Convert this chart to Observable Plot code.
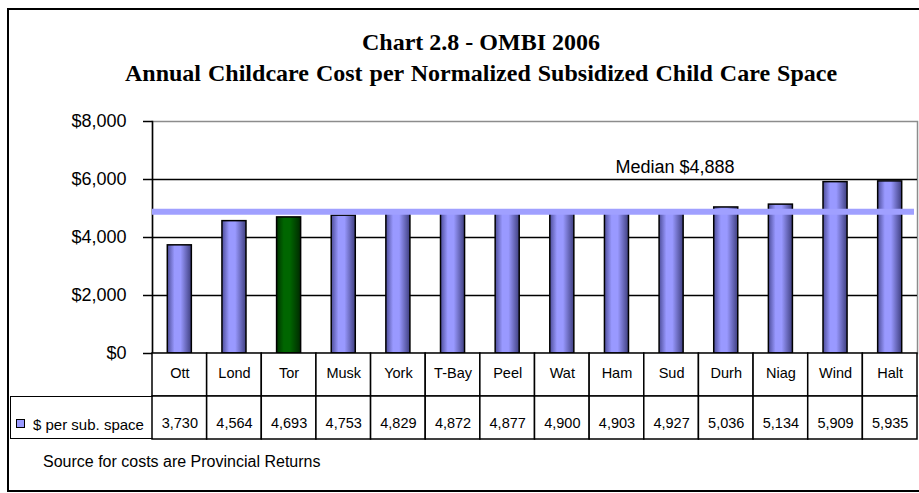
<!DOCTYPE html>
<html><head><meta charset="utf-8">
<script src="https://cdn.jsdelivr.net/npm/d3@7"></script>
<script src="https://cdn.jsdelivr.net/npm/@observablehq/plot@0.6"></script>
<style>
html,body{margin:0;background:#fff;overflow:hidden}
#root{position:relative;width:919px;height:493px;overflow:hidden;background:#fff;font-family:"Liberation Sans",Arial,sans-serif;color:#000}
.edge{position:absolute;background:#000}
#edgeTop{left:7px;top:8px;width:912px;height:2px}
#edgeLeft{left:7px;top:8px;width:2px;height:484px}
#edgeBottom{left:7px;top:490px;width:912px;height:2px}
.title{position:absolute;left:0;width:962px;text-align:center;font-family:"Liberation Serif","Times New Roman",serif;font-weight:bold;font-size:24px;line-height:24px;white-space:nowrap}
#title1{top:30px}
#title2{top:61px;word-spacing:1px}
#chart,#table{position:absolute;left:0}
#chart{top:0}
#table{top:353px}
#legendCell{position:absolute;left:10px;top:396px;width:143px;height:43px;box-sizing:border-box;border:1.5px solid #000;border-right:none;font-size:15px;line-height:15px;white-space:nowrap}
#legendCell .sw{position:absolute;left:5px;top:22px;width:9px;height:9px;box-sizing:border-box;background:#9999ff;border:1.5px solid #000}
#legendCell .lt{position:absolute;left:22px;top:20px}
#source{position:absolute;left:43px;top:454px;font-size:16px;line-height:16px;white-space:nowrap}
svg{overflow:visible}
</style></head><body>
<div id="root">
  <div class="edge" id="edgeTop"></div>
  <div class="edge" id="edgeLeft"></div>
  <div class="edge" id="edgeBottom"></div>
  <div class="title" id="title1"></div>
  <div class="title" id="title2"></div>
  <div id="chart"></div>
  <div id="table"></div>
  <div id="legendCell"><span class="sw"></span><span class="lt"></span></div>
  <div id="source"></div>
</div>
<script>
const titleLine1 = "Chart 2.8 - OMBI 2006";
const titleLine2 = "Annual Childcare Cost per Normalized Subsidized Child Care Space";
const cities = ["Ott","Lond","Tor","Musk","York","T-Bay","Peel","Wat","Ham","Sud","Durh","Niag","Wind","Halt"];
const costs = [3730,4564,4693,4753,4829,4872,4877,4900,4903,4927,5036,5134,5909,5935];
const highlighted = ["Tor"];
const median = 4888;
const yTicks = [0,2000,4000,6000,8000];
const gridTicks = [2000,4000,6000];
const seriesName = "$ per sub. space";
const sourceNote = "Source for costs are Provincial Returns";

document.getElementById("title1").textContent = titleLine1;
document.getElementById("title2").textContent = titleLine2;
document.querySelector("#legendCell .lt").textContent = seriesName;
document.getElementById("source").textContent = sourceNote;

const data = cities.map((c, i) => ({city: c, cost: costs[i]}));
const money = d3.format("$,");
const comma = d3.format(",");
const fontStyle = {fontFamily: '"Liberation Sans", Arial, sans-serif', color: "black", background: "transparent", overflow: "visible"};

const chart = Plot.plot({
  width: 919, height: 360,
  marginLeft: 152, marginRight: 2, marginTop: 121, marginBottom: 7,
  x: {type: "band", domain: cities, paddingInner: 0.56, paddingOuter: 0.28, round: false, axis: null},
  y: {domain: [0, 8000], axis: null},
  style: fontStyle,
  marks: [
    Plot.frame({stroke: "#8c8c8c", strokeWidth: 1.5}),
    Plot.ruleY(gridTicks, {stroke: "black", strokeWidth: 1.5}),
    Plot.axisY({ticks: yTicks, tickFormat: money, tickSize: 9, tickPadding: 17, fontSize: 18, label: null, stroke: "black", strokeWidth: 1.5}),
    Plot.frame({anchor: "left", stroke: "black", strokeWidth: 1.5}),
    Plot.barY(data.filter(d => !highlighted.includes(d.city)), {x: "city", y: "cost", fill: "url(#barBlue)", stroke: "black", strokeWidth: 1.5}),
    Plot.barY(data.filter(d => highlighted.includes(d.city)), {x: "city", y: "cost", fill: "url(#barGreen)", stroke: "black", strokeWidth: 1.5}),
    Plot.ruleY([median], {stroke: "#a0a0ff", strokeWidth: 6, insetRight: 3}),
    Plot.text([`Median ${money(median)}`], {frameAnchor: "top", dx: 140, dy: 39, fontSize: 18, fill: "black"})
  ]
});

const defs = d3.select(chart).insert("defs", ":first-child");
function grad(id, stops) {
  const g = defs.append("linearGradient").attr("id", id).attr("x1", "0%").attr("x2", "100%").attr("y1", "0%").attr("y2", "0%");
  stops.forEach(([o, c]) => g.append("stop").attr("offset", o).attr("stop-color", c));
}
grad("barBlue", [["0%", "#4d4d99"], ["30%", "#9999ff"], ["55%", "#9999ff"], ["100%", "#3f3f80"]]);
grad("barGreen", [["0%", "#003300"], ["30%", "#006600"], ["55%", "#006600"], ["100%", "#002a00"]]);
document.getElementById("chart").appendChild(chart);

const tableData = cities.flatMap((c, i) => [
  {city: c, row: "name", label: c},
  {city: c, row: "value", label: comma(costs[i])}
]);
const table = Plot.plot({
  width: 919, height: 86,
  marginLeft: 152, marginRight: 2, marginTop: 0, marginBottom: 0,
  x: {type: "band", domain: cities, padding: 0, round: false, axis: null},
  y: {type: "band", domain: ["name", "value"], padding: 0, round: false, axis: null},
  style: fontStyle,
  marks: [
    Plot.cell(tableData, {x: "city", y: "row", fill: "white", stroke: "black", strokeWidth: 1.5, inset: 0}),
    Plot.text(tableData.filter(d => d.row === "name"), {x: "city", y: "row", text: "label", fontSize: 14.5, dy: -2, fill: "black"}),
    Plot.text(tableData.filter(d => d.row === "value"), {x: "city", y: "row", text: "label", fontSize: 14.5, dy: 5, fill: "black"})
  ]
});
document.getElementById("table").appendChild(table);
</script>
</body></html>
